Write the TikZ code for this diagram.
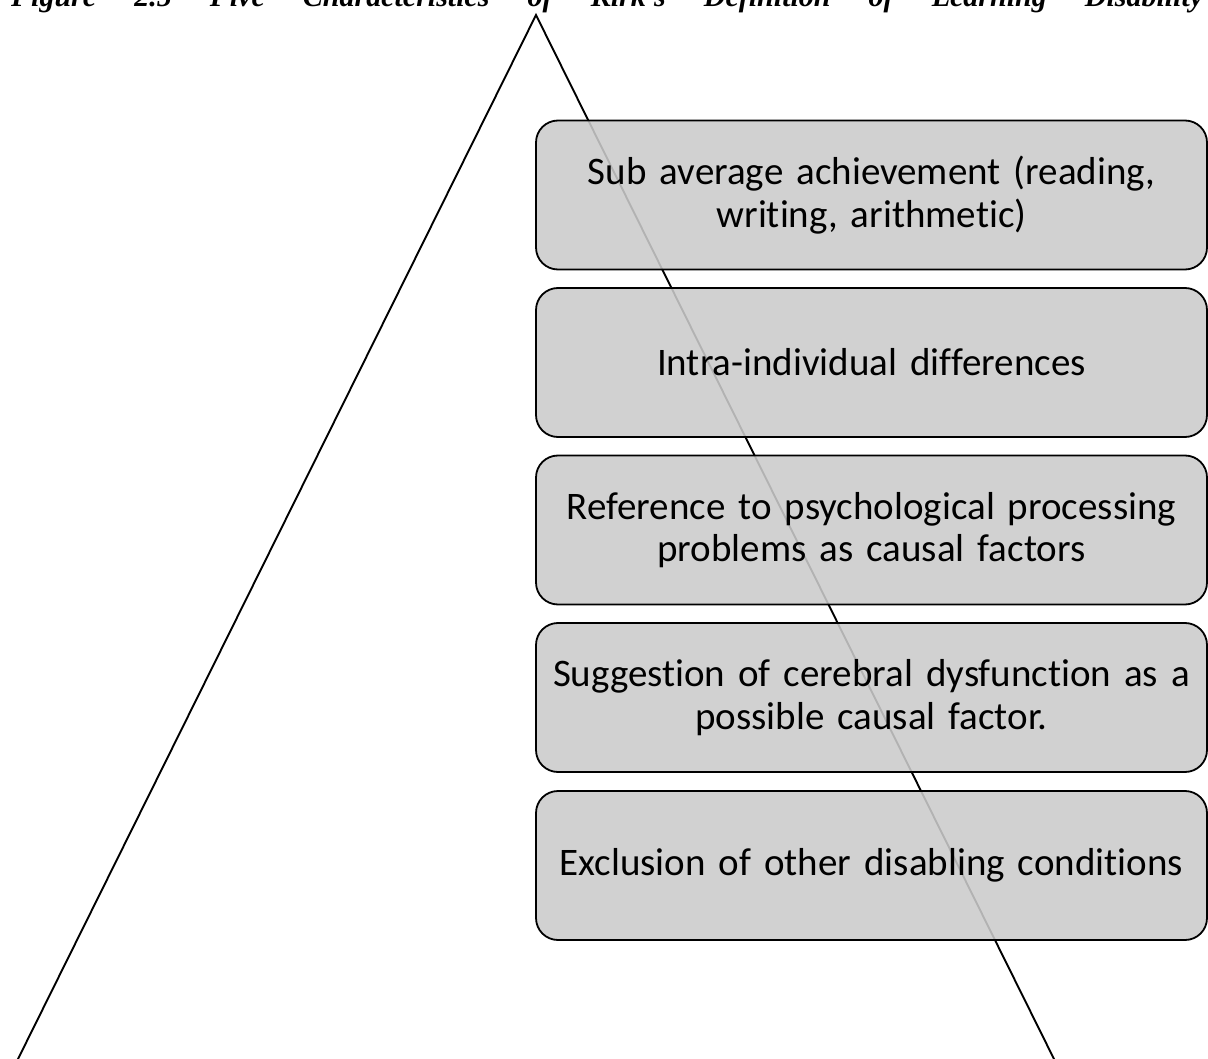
\documentclass[tikz,border=0pt]{standalone}
\usepackage{fontspec}
\usetikzlibrary{calc}
\setmainfont{Carlito}[Ligatures=NoCommon]
\newfontfamily\titlefont{Liberation Serif}
\definecolor{boxfill}{RGB}{203,203,203}
\tikzset{
  charbox/.style={draw=black, line width=1.8pt, rounded corners=22pt, fill=boxfill,
    fill opacity=0.88, text opacity=1, minimum width=671pt, minimum height=149pt,
    text width=664pt, align=center, inner sep=0pt,
    font=\fontsize{39}{42.5}\selectfont},
  triline/.style={draw=black, line width=1.9pt, line join=miter}
}
\begin{document}
\begin{tikzpicture}[x=1pt,y=-1pt]
\useasboundingbox (0,0) rectangle (1208,1059);
\clip (0,0) rectangle (1208,1059);
\node[anchor=base west, inner sep=0pt] (title) at (11,7)
  {\titlefont\bfseries\itshape\fontsize{30}{36}\selectfont\makebox[1192pt][s]{Figure 2.5 Five Characteristics of Kirk's Definition of Learning Disability}};
\coordinate (apex) at (536,15);
\coordinate (bl) at (18,1059);
\coordinate (br) at (1054,1059);
\draw[triline] ($(apex)!1.05!(bl)$) -- (apex) -- ($(apex)!1.05!(br)$);
\node[charbox] (b1) at (871.5,195) {Sub average achievement (reading,\\ writing, arithmetic)};
\node[charbox] (b2) at (871.5,362.5) {Intra-individual differences};
\node[charbox] (b3) at (871.5,530) {Reference to psychological processing\\ problems as causal factors};
\node[charbox] (b4) at (871.5,697.5) {Suggestion of cerebral dysfunction as a\\ possible causal factor.};
\node[charbox] (b5) at (871.5,865.5) {Exclusion of other disabling conditions};
\end{tikzpicture}
\end{document}
